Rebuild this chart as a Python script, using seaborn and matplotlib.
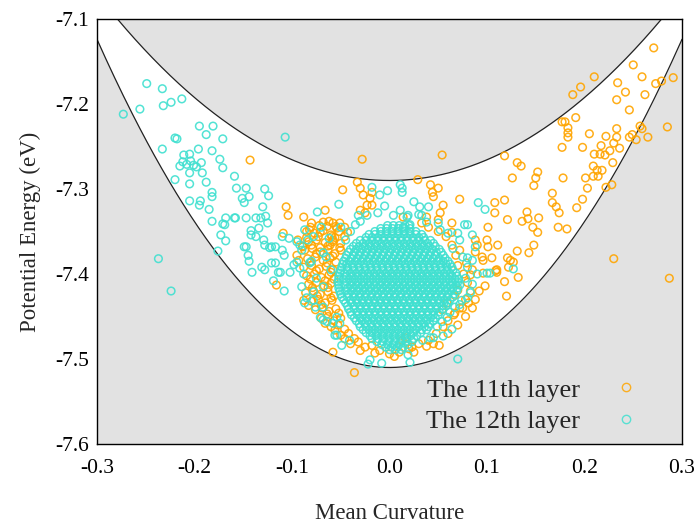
import numpy as np
import pandas as pd
import matplotlib
matplotlib.use("Agg")
import matplotlib.pyplot as plt
from matplotlib.lines import Line2D
import seaborn as sns

# ---------------- data ----------------
x_ticks = [-0.3, -0.2, -0.1, 0.0, 0.1, 0.2, 0.3]
x_tick_labels = ["-0.3", "-0.2", "-0.1", "0.0", "0.1", "0.2", "0.3"]
y_ticks = [-7.6, -7.5, -7.4, -7.3, -7.2, -7.1]
y_tick_labels = ["-7.6", "-7.5", "-7.4", "-7.3", "-7.2", "-7.1"]

# boundary parabolas  E = E0 + k * H^2
upper_E0, upper_k = -7.29, 2.44
lower_E0, lower_k = -7.51, 4.29

layer_names = ["The 11th layer", "The 12th layer"]

# 11th layer (orange)
l11_sparse = [
    (-0.143, -7.266), (-0.106, -7.321), (-0.104, -7.331), (-0.109, -7.352), (-0.094, -7.360),
    (-0.089, -7.368), (-0.095, -7.378), (-0.093, -7.384), (-0.116, -7.413), (-0.088, -7.333),
    (-0.088, -7.431), (-0.028, -7.265), (0.054, -7.260), (-0.048, -7.301),
    (-0.033, -7.292), (-0.030, -7.299), (-0.027, -7.307), (-0.018, -7.304), (-0.020, -7.311),
    (-0.023, -7.319), (-0.018, -7.319), (-0.030, -7.325), (-0.025, -7.328),
    (-0.066, -7.325), (-0.068, -7.339), (-0.058, -7.340), (-0.054, -7.346), (-0.051, -7.340),
    (-0.046, -7.345), (-0.043, -7.351), (-0.071, -7.351), (-0.082, -7.348), (-0.059, -7.356),
    (-0.058, -7.362), (-0.063, -7.367), (-0.071, -7.369), (-0.051, -7.369), (-0.085, -7.357),
    (-0.089, -7.367), (-0.058, -7.492), (-0.036, -7.516),
    (0.029, -7.289), (0.042, -7.295), (0.044, -7.304), (0.045, -7.309), (0.050, -7.299),
    (0.072, -7.312), (0.108, -7.316), (0.118, -7.313), (0.108, -7.328), (0.101, -7.345),
    (0.121, -7.336), (0.100, -7.360), (0.101, -7.368), (0.111, -7.366), (0.095, -7.380),
    (0.121, -7.381), (0.124, -7.384), (0.110, -7.395),
    (0.055, -7.319), (0.052, -7.328), (0.050, -7.336), (0.038, -7.333), (0.033, -7.340),
    (0.014, -7.333), (0.064, -7.340), (0.064, -7.351), (0.088, -7.360), (0.090, -7.366),
    (0.072, -7.372), (0.088, -7.374), (0.079, -7.387), (0.085, -7.395), (0.083, -7.401),
    (0.096, -7.384), (0.096, -7.399),
    (0.051, -7.484), (0.023, -7.486), (0.013, -7.478), (0.016, -7.475), (0.098, -7.414),
    (0.118, -7.409), (0.120, -7.426), (0.081, -7.434), (0.075, -7.440), (0.067, -7.446),
    (0.070, -7.419), (0.067, -7.425), (0.059, -7.434), (0.054, -7.442), (0.110, -7.398),
]
l11_arm = [
    (0.271, -7.134), (0.250, -7.154), (0.210, -7.168), (0.196, -7.180), (0.188, -7.189),
    (0.234, -7.175), (0.259, -7.168), (0.273, -7.176), (0.279, -7.173), (0.291, -7.169),
    (0.242, -7.186), (0.233, -7.195), (0.262, -7.189), (0.246, -7.207), (0.177, -7.221),
    (0.180, -7.221), (0.191, -7.216), (0.183, -7.228), (0.183, -7.234), (0.183, -7.239),
    (0.205, -7.235), (0.222, -7.238), (0.233, -7.229), (0.233, -7.239), (0.230, -7.246),
    (0.236, -7.252), (0.246, -7.239), (0.249, -7.236), (0.253, -7.242), (0.257, -7.226),
    (0.259, -7.229), (0.265, -7.239), (0.285, -7.227), (0.177, -7.251), (0.198, -7.251),
    (0.217, -7.249), (0.210, -7.259), (0.216, -7.259), (0.221, -7.260), (0.226, -7.255),
    (0.229, -7.269), (0.209, -7.273), (0.213, -7.278), (0.218, -7.278), (0.209, -7.285),
    (0.214, -7.285), (0.118, -7.261), (0.131, -7.269), (0.135, -7.273), (0.152, -7.280),
    (0.126, -7.287), (0.150, -7.287), (0.178, -7.287), (0.201, -7.287),
    (0.148, -7.296), (0.203, -7.299), (0.198, -7.312), (0.222, -7.298), (0.228, -7.295),
    (0.167, -7.305), (0.167, -7.316), (0.171, -7.321), (0.174, -7.328), (0.192, -7.322),
    (0.173, -7.345), (0.182, -7.347), (0.141, -7.327), (0.136, -7.338), (0.142, -7.335),
    (0.153, -7.334), (0.147, -7.345), (0.152, -7.351), (0.148, -7.366), (0.143, -7.375),
    (0.131, -7.373), (0.105, -7.381), (0.127, -7.386), (0.122, -7.392), (0.109, -7.396),
    (0.132, -7.404), (0.230, -7.382), (0.287, -7.405),
]
l11_dense = [
    (-0.080, -7.340), (-0.072, -7.343), (-0.062, -7.338), (-0.055, -7.344),
    (-0.085, -7.350), (-0.077, -7.352), (-0.068, -7.349), (-0.060, -7.354), (-0.052, -7.350), (-0.046, -7.356),
    (-0.083, -7.362), (-0.075, -7.360), (-0.066, -7.363), (-0.058, -7.360), (-0.050, -7.364),
    (-0.087, -7.372), (-0.079, -7.370), (-0.071, -7.374), (-0.063, -7.371), (-0.056, -7.376), (-0.050, -7.372),
    (-0.084, -7.382), (-0.076, -7.380), (-0.068, -7.384), (-0.061, -7.381), (-0.055, -7.386),
    (-0.088, -7.392), (-0.080, -7.390), (-0.072, -7.394), (-0.065, -7.391), (-0.058, -7.395),
    (-0.085, -7.402), (-0.077, -7.400), (-0.070, -7.404), (-0.062, -7.401), (-0.057, -7.406),
    (-0.083, -7.412), (-0.075, -7.410), (-0.067, -7.414), (-0.060, -7.411),
    (-0.086, -7.422), (-0.078, -7.420), (-0.071, -7.424), (-0.063, -7.421), (-0.057, -7.426),
    (-0.080, -7.432), (-0.073, -7.430), (-0.066, -7.434), (-0.059, -7.431),
    (-0.076, -7.442), (-0.069, -7.440), (-0.062, -7.444), (-0.055, -7.441),
    (-0.070, -7.452), (-0.063, -7.450), (-0.057, -7.455), (-0.050, -7.452),
    (-0.060, -7.462), (-0.053, -7.460), (-0.046, -7.465),
    (-0.050, -7.472), (-0.042, -7.470), (-0.036, -7.476),
    (-0.040, -7.482), (-0.032, -7.480), (-0.025, -7.486), (-0.018, -7.484),
    (-0.010, -7.490), (0.000, -7.494), (0.010, -7.492), (0.020, -7.488), (0.030, -7.482),
    (0.040, -7.478), (0.048, -7.470), (0.055, -7.462), (0.060, -7.455), (0.066, -7.448),
    (0.072, -7.440), (0.078, -7.430), (0.083, -7.420), (0.080, -7.410), (0.076, -7.400),
    (0.070, -7.390), (0.068, -7.378), (0.064, -7.366), (0.058, -7.356), (0.050, -7.350),
    (0.040, -7.345),
    (-0.081, -7.345), (-0.064, -7.344), (-0.073, -7.356), (-0.056, -7.357), (-0.080, -7.366),
    (-0.061, -7.366), (-0.075, -7.376), (-0.058, -7.379), (-0.081, -7.386), (-0.064, -7.387),
    (-0.075, -7.396), (-0.060, -7.398), (-0.081, -7.406), (-0.066, -7.408), (-0.079, -7.416),
    (-0.063, -7.416), (-0.074, -7.426), (-0.060, -7.428), (-0.083, -7.437), (-0.070, -7.436),
    (-0.064, -7.447), (-0.052, -7.446), (-0.066, -7.458), (-0.056, -7.466), (-0.046, -7.476),
    (-0.030, -7.490), (-0.015, -7.493), (0.005, -7.497), (0.025, -7.492), (0.038, -7.485),
    (0.045, -7.482), (0.060, -7.470), (0.070, -7.460), (0.078, -7.450), (0.085, -7.440),
    (0.088, -7.430), (0.092, -7.420),
]

# 12th layer (turquoise)
l12_sparse = [
    (-0.249, -7.176), (-0.233, -7.182), (-0.273, -7.212), (-0.256, -7.206), (-0.232, -7.202),
    (-0.224, -7.198), (-0.213, -7.194), (-0.107, -7.239), (-0.195, -7.226), (-0.181, -7.226),
    (-0.188, -7.236), (-0.171, -7.241), (-0.220, -7.240), (-0.218, -7.241), (-0.233, -7.253),
    (-0.196, -7.253), (-0.182, -7.255), (-0.211, -7.260), (-0.205, -7.259), (-0.215, -7.273),
    (-0.212, -7.268), (-0.208, -7.271), (-0.204, -7.267), (-0.201, -7.272), (-0.198, -7.274),
    (-0.193, -7.269), (-0.174, -7.265), (-0.171, -7.275), (-0.205, -7.281), (-0.192, -7.281),
    (-0.220, -7.289), (-0.205, -7.294), (-0.188, -7.292), (-0.159, -7.285), (-0.157, -7.299),
    (-0.147, -7.299), (-0.182, -7.304), (-0.182, -7.309), (-0.151, -7.311), (-0.144, -7.309),
    (-0.149, -7.316), (-0.128, -7.300), (-0.124, -7.308), (-0.205, -7.314), (-0.195, -7.319),
    (-0.194, -7.314), (-0.185, -7.324), (-0.130, -7.321),
    (-0.237, -7.382), (-0.224, -7.420), (-0.182, -7.338), (-0.171, -7.341), (-0.169, -7.342),
    (-0.168, -7.334), (-0.159, -7.334), (-0.158, -7.334), (-0.173, -7.354), (-0.168, -7.361),
    (-0.176, -7.373), (-0.147, -7.334), (-0.149, -7.368), (-0.147, -7.368), (-0.145, -7.378),
    (-0.144, -7.385), (-0.141, -7.398), (-0.142, -7.349), (-0.142, -7.354), (-0.137, -7.356),
    (-0.134, -7.346), (-0.137, -7.334), (-0.132, -7.334), (-0.127, -7.332), (-0.125, -7.340),
    (-0.129, -7.360), (-0.128, -7.366), (-0.121, -7.368), (-0.117, -7.368), (-0.123, -7.369),
    (-0.131, -7.392), (-0.128, -7.395), (-0.121, -7.387), (-0.117, -7.387), (-0.112, -7.398),
    (-0.102, -7.398), (-0.098, -7.389), (-0.095, -7.386), (-0.092, -7.393), (-0.119, -7.408),
    (-0.108, -7.420), (-0.110, -7.372), (-0.108, -7.378), (-0.110, -7.356), (-0.103, -7.358),
    (-0.095, -7.362), (-0.092, -7.366), (-0.114, -7.398),
    (-0.052, -7.318), (-0.074, -7.327), (-0.018, -7.298), (-0.010, -7.307), (-0.002, -7.302),
    (0.011, -7.295), (0.013, -7.299), (0.013, -7.304), (-0.032, -7.331), (-0.023, -7.331),
    (-0.012, -7.328), (0.004, -7.331), (0.011, -7.325), (0.018, -7.333), (-0.087, -7.348),
    (-0.084, -7.360), (-0.078, -7.356), (-0.090, -7.372), (-0.068, -7.375), (-0.082, -7.387),
    (-0.022, -7.506), (-0.008, -7.505), (-0.020, -7.501), (-0.049, -7.484), (-0.054, -7.472),
    (0.091, -7.316), (0.098, -7.324), (0.031, -7.321), (0.040, -7.321), (0.033, -7.331),
    (0.038, -7.339), (0.050, -7.340), (0.052, -7.348), (0.060, -7.352), (0.070, -7.352),
    (0.072, -7.360), (0.077, -7.342), (0.080, -7.342), (0.085, -7.354), (0.088, -7.368),
    (0.085, -7.384), (0.080, -7.381), (0.100, -7.399), (0.103, -7.399), (0.019, -7.331),
    (0.021, -7.342), (0.014, -7.345),
    (0.070, -7.500), (0.021, -7.504), (0.019, -7.495), (0.064, -7.465), (0.055, -7.473),
    (0.045, -7.475), (0.042, -7.475), (0.034, -7.478),
    (0.083, -7.422), (0.080, -7.428), (0.074, -7.431), (0.072, -7.436), (0.067, -7.439),
    (0.062, -7.445), (0.059, -7.451), (0.054, -7.456), (0.049, -7.462), (0.127, -7.394),
    (-0.087, -7.434), (-0.085, -7.428), (-0.078, -7.431), (-0.076, -7.439), (-0.068, -7.439),
    (-0.071, -7.451), (-0.064, -7.456), (-0.058, -7.458), (-0.051, -7.458), (-0.054, -7.451),
    (-0.078, -7.421), (-0.068, -7.454), (-0.056, -7.472), (-0.041, -7.478),
    (-0.070, -7.345), (-0.062, -7.358), (-0.050, -7.345), (-0.045, -7.360), (-0.040, -7.350),
    (-0.035, -7.342), (-0.030, -7.338), (-0.065, -7.380), (-0.060, -7.395), (-0.075, -7.405),
    (-0.068, -7.415), (-0.080, -7.385), (-0.088, -7.400), (-0.090, -7.415), (0.078, -7.405),
    (0.085, -7.412), (0.080, -7.392), (0.075, -7.380), (0.090, -7.400), (0.065, -7.370),
    (0.025, -7.315), (-0.005, -7.320), (0.030, -7.330),
]
# dense core of the 12th layer, read row by row
l12_core_rows_y = [-7.343, -7.350, -7.357, -7.364, -7.371, -7.378, -7.385, -7.392, -7.399, -7.406, -7.413,
                   -7.420, -7.427, -7.434, -7.441, -7.448, -7.455, -7.462, -7.469, -7.476, -7.483, -7.489]
l12_core_rows_x = [
    [-0.002, 0.004, 0.010, 0.016, 0.020],
    [-0.015, -0.009, -0.003, 0.003, 0.009, 0.015, 0.021, 0.027],
    [-0.024, -0.018, -0.012, -0.006, 0.000, 0.006, 0.012, 0.018, 0.024, 0.030, 0.035],
    [-0.034, -0.027, -0.021, -0.015, -0.009, -0.003, 0.003, 0.009, 0.015, 0.021, 0.027, 0.033, 0.039, 0.045],
    [-0.040, -0.034, -0.028, -0.022, -0.016, -0.010, -0.004, 0.002, 0.008, 0.014, 0.020, 0.026, 0.032, 0.038, 0.044, 0.051],
    [-0.044, -0.037, -0.031, -0.025, -0.019, -0.013, -0.007, -0.001, 0.005, 0.011, 0.017, 0.023, 0.029, 0.035, 0.041, 0.047, 0.055],
    [-0.047, -0.041, -0.035, -0.029, -0.023, -0.017, -0.011, -0.005, 0.001, 0.007, 0.013, 0.019, 0.025, 0.031, 0.037, 0.043, 0.049, 0.055, 0.060],
    [-0.049, -0.043, -0.037, -0.031, -0.025, -0.019, -0.013, -0.007, -0.001, 0.005, 0.011, 0.017, 0.023, 0.029, 0.035, 0.041, 0.047, 0.053, 0.059, 0.064],
    [-0.051, -0.046, -0.040, -0.034, -0.028, -0.022, -0.016, -0.010, -0.004, 0.002, 0.008, 0.014, 0.020, 0.026, 0.032, 0.038, 0.044, 0.050, 0.056, 0.062, 0.068],
    [-0.052, -0.047, -0.041, -0.035, -0.029, -0.023, -0.017, -0.011, -0.005, 0.001, 0.007, 0.013, 0.019, 0.025, 0.031, 0.037, 0.043, 0.049, 0.055, 0.061, 0.067, 0.071],
    [-0.052, -0.046, -0.040, -0.034, -0.028, -0.022, -0.016, -0.010, -0.004, 0.002, 0.008, 0.014, 0.020, 0.026, 0.032, 0.038, 0.044, 0.050, 0.056, 0.062, 0.068, 0.072],
    [-0.051, -0.045, -0.039, -0.033, -0.027, -0.021, -0.015, -0.009, -0.003, 0.003, 0.009, 0.015, 0.021, 0.027, 0.033, 0.039, 0.045, 0.051, 0.057, 0.063, 0.069],
    [-0.049, -0.043, -0.037, -0.031, -0.025, -0.019, -0.013, -0.007, -0.001, 0.005, 0.011, 0.017, 0.023, 0.029, 0.035, 0.041, 0.047, 0.053, 0.059, 0.065],
    [-0.045, -0.039, -0.033, -0.027, -0.021, -0.015, -0.009, -0.003, 0.003, 0.009, 0.015, 0.021, 0.027, 0.033, 0.039, 0.045, 0.051, 0.056, 0.060],
    [-0.042, -0.036, -0.030, -0.024, -0.018, -0.012, -0.006, 0.000, 0.006, 0.012, 0.018, 0.024, 0.030, 0.036, 0.042, 0.048, 0.055],
    [-0.039, -0.033, -0.027, -0.021, -0.015, -0.009, -0.003, 0.003, 0.009, 0.015, 0.021, 0.027, 0.033, 0.039, 0.045, 0.050],
    [-0.034, -0.028, -0.022, -0.016, -0.010, -0.004, 0.002, 0.008, 0.014, 0.020, 0.026, 0.032, 0.038, 0.045],
    [-0.030, -0.024, -0.018, -0.012, -0.006, 0.000, 0.006, 0.012, 0.018, 0.024, 0.030, 0.036, 0.040],
    [-0.024, -0.018, -0.012, -0.006, 0.000, 0.006, 0.012, 0.018, 0.024, 0.032],
    [-0.018, -0.012, -0.006, 0.000, 0.006, 0.012, 0.018, 0.025],
    [-0.008, -0.002, 0.004, 0.010, 0.019],
    [0.000, 0.006, 0.012],
]
l12_core_mid_rows_y = [-7.3465, -7.3535, -7.3605, -7.3675, -7.3745, -7.3815, -7.3885, -7.3955, -7.4025,
                       -7.4095, -7.4165, -7.4235, -7.4305, -7.4375, -7.4445, -7.4515, -7.4585, -7.4655,
                       -7.4725, -7.4795, -7.486]
l12_core_mid_rows_x = [
    [-0.009, -0.003, 0.003, 0.009, 0.015, 0.021],
    [-0.021, -0.015, -0.009, -0.003, 0.003, 0.009, 0.015, 0.021, 0.027, 0.033],
    [-0.030, -0.024, -0.018, -0.012, -0.006, 0.000, 0.006, 0.012, 0.018, 0.024, 0.030, 0.036, 0.042],
    [-0.037, -0.031, -0.025, -0.019, -0.013, -0.007, -0.001, 0.005, 0.011, 0.017, 0.023, 0.029, 0.035, 0.041, 0.047],
    [-0.042, -0.036, -0.030, -0.024, -0.018, -0.012, -0.006, 0.000, 0.006, 0.012, 0.018, 0.024, 0.030, 0.036, 0.042, 0.048, 0.053],
    [-0.045, -0.039, -0.033, -0.027, -0.021, -0.015, -0.009, -0.003, 0.003, 0.009, 0.015, 0.021, 0.027, 0.033, 0.039, 0.045, 0.051, 0.057],
    [-0.048, -0.044, -0.038, -0.032, -0.026, -0.020, -0.014, -0.008, -0.002, 0.004, 0.010, 0.016, 0.022, 0.028, 0.034, 0.040, 0.046, 0.052, 0.058, 0.062],
    [-0.050, -0.043, -0.037, -0.031, -0.025, -0.019, -0.013, -0.007, -0.001, 0.005, 0.011, 0.017, 0.023, 0.029, 0.035, 0.041, 0.047, 0.053, 0.059, 0.065],
    [-0.052, -0.044, -0.038, -0.032, -0.026, -0.020, -0.014, -0.008, -0.002, 0.004, 0.010, 0.016, 0.022, 0.028, 0.034, 0.040, 0.046, 0.052, 0.058, 0.064, 0.069],
    [-0.053, -0.044, -0.038, -0.032, -0.026, -0.020, -0.014, -0.008, -0.002, 0.004, 0.010, 0.016, 0.022, 0.028, 0.034, 0.040, 0.046, 0.052, 0.058, 0.064, 0.070],
    [-0.052, -0.043, -0.037, -0.031, -0.025, -0.019, -0.013, -0.007, -0.001, 0.005, 0.011, 0.017, 0.023, 0.029, 0.035, 0.041, 0.047, 0.053, 0.059, 0.065, 0.070],
    [-0.050, -0.042, -0.036, -0.030, -0.024, -0.018, -0.012, -0.006, 0.000, 0.006, 0.012, 0.018, 0.024, 0.030, 0.036, 0.042, 0.048, 0.054, 0.060, 0.066],
    [-0.047, -0.040, -0.034, -0.028, -0.022, -0.016, -0.010, -0.004, 0.002, 0.008, 0.014, 0.020, 0.026, 0.032, 0.038, 0.044, 0.050, 0.056, 0.062],
    [-0.043, -0.036, -0.030, -0.024, -0.018, -0.012, -0.006, 0.000, 0.006, 0.012, 0.018, 0.024, 0.030, 0.036, 0.042, 0.048, 0.054, 0.058],
    [-0.040, -0.033, -0.027, -0.021, -0.015, -0.009, -0.003, 0.003, 0.009, 0.015, 0.021, 0.027, 0.033, 0.039, 0.045, 0.051],
    [-0.036, -0.030, -0.024, -0.018, -0.012, -0.006, 0.000, 0.006, 0.012, 0.018, 0.024, 0.030, 0.036, 0.042, 0.047],
    [-0.031, -0.025, -0.019, -0.013, -0.007, -0.001, 0.005, 0.011, 0.017, 0.023, 0.029, 0.035, 0.041],
    [-0.027, -0.021, -0.015, -0.009, -0.003, 0.003, 0.009, 0.015, 0.021, 0.027, 0.033, 0.038],
    [-0.020, -0.014, -0.008, -0.002, 0.004, 0.010, 0.016, 0.022, 0.028],
    [-0.013, -0.007, -0.001, 0.005, 0.011, 0.017, 0.023],
    [-0.004, 0.002, 0.008, 0.014],
]

# ---------------- build tables ----------------
l11_pts = l11_sparse + l11_arm + l11_dense
l12_core = [(x, y) for y, row in zip(l12_core_rows_y, l12_core_rows_x) for x in row]
l12_core += [(x, y) for y, row in zip(l12_core_mid_rows_y, l12_core_mid_rows_x) for x in row]
l12_pts = l12_sparse + l12_core
df11 = pd.DataFrame(l11_pts, columns=["H", "E"])
df12 = pd.DataFrame(l12_pts, columns=["H", "E"])

# ---------------- style ----------------
sns.set_style("white")
plt.rcParams["font.family"] = ["Liberation Serif", "DejaVu Serif"]
plt.rcParams["axes.unicode_minus"] = False

c11 = "#ffa500"
c12 = "#40e0d0"

fig = plt.figure(figsize=(6.97, 5.23), dpi=100)
ax = fig.add_axes([97 / 697, 1 - 444 / 523, 585 / 697, 425 / 523])
ax.set_facecolor("#e2e2e2")

hc = np.linspace(-0.3, 0.3, 400)
upper = upper_E0 + upper_k * hc ** 2
lower = lower_E0 + lower_k * hc ** 2
ax.fill_between(hc, lower, upper, color="white", zorder=0.5, linewidth=0)
ax.plot(hc, upper, color="#222222", lw=0.9, zorder=1)
ax.plot(hc, lower, color="#222222", lw=0.9, zorder=1)

sns.scatterplot(data=df11, x="H", y="E", ax=ax, marker="o", s=30,
                facecolor="none", edgecolor=c11, linewidth=1.1, alpha=0.9,
                legend=False, zorder=2)
sns.scatterplot(data=df12, x="H", y="E", ax=ax, marker="o", s=30,
                facecolor="none", edgecolor=c12, linewidth=1.1, alpha=0.9,
                legend=False, zorder=3)

ax.set_xlim(-0.3, 0.3)
ax.set_ylim(-7.6, -7.1)
ax.set_xticks(x_ticks)
ax.set_xticklabels(x_tick_labels)
ax.set_yticks(y_ticks)
ax.set_yticklabels(y_tick_labels)
ax.tick_params(axis="both", length=0, labelsize=15.5, colors="black")
ax.tick_params(axis="x", pad=11)
ax.tick_params(axis="y", pad=6)
for sp in ax.spines.values():
    sp.set_visible(True)
    sp.set_color("black")
    sp.set_linewidth(1.0)

ax.set_xlabel("Mean Curvature", fontsize=16.5, labelpad=18)
ax.set_ylabel("Potential Energy (eV)", fontsize=16.5, labelpad=10)

handles = [
    Line2D([], [], marker="o", ls="none", markersize=6, markerfacecolor="none",
           markeredgecolor=c11, markeredgewidth=1.0, alpha=0.85),
    Line2D([], [], marker="o", ls="none", markersize=6, markerfacecolor="none",
           markeredgecolor=c12, markeredgewidth=1.0, alpha=0.85),
]
ax.legend(handles, layer_names, loc="center right", bbox_to_anchor=(0.990, 0.090),
          frameon=False, markerfirst=False, fontsize=19, labelspacing=0.32,
          handletextpad=0.73, handlelength=2.0, borderpad=0.4)

fig.savefig("out.png", dpi=100)
